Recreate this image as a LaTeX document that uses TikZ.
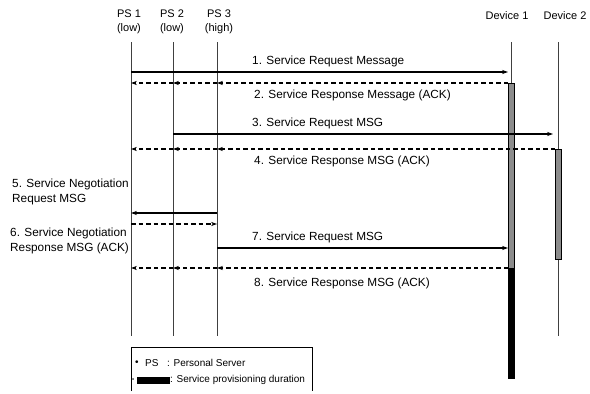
\documentclass[tikz,border=0pt]{standalone}
\usepackage{fontspec}
\setmainfont{Liberation Sans}
\usetikzlibrary{arrows.meta}
\begin{document}
\begin{tikzpicture}[x=1pt,y=-1pt,
  lbl/.style={font=\fontsize{11.8}{13.5}\selectfont, inner sep=0pt, anchor=west},
  side/.style={font=\fontsize{11.8}{15}\selectfont, inner sep=0pt, anchor=west, align=left},
  hdr/.style={font=\fontsize{11}{13.5}\selectfont, inner sep=0pt, align=center},
  leg/.style={font=\fontsize{10}{12}\selectfont, inner sep=0pt, anchor=west},
  life/.style={line width=0.5pt, black!75},
  tip/.style={-{Stealth[length=6pt,width=4.2pt]}},
  req/.style={line width=1.2pt, tip},
  resp/.style={line width=1.3pt, dash pattern=on 4.5pt off 3pt, tip},
  busy/.style={fill=black!45, draw=black, line width=0.5pt},
  done/.style={fill=black, draw=black, line width=0.5pt}]
\useasboundingbox (0,0) rectangle (590,394);

% participants
\node[hdr] (h1) at (129,22) {PS 1\\(low)};
\node[hdr] (h2) at (172,22) {PS 2\\(low)};
\node[hdr] (h3) at (219,22) {PS 3\\(high)};
\node[hdr] (h4) at (507,16) {Device 1};
\node[hdr] (h5) at (565,16) {Device 2};

% lifeline tops
\coordinate (p1) at (131,42);
\coordinate (p2) at (173,42);
\coordinate (p3) at (217,42);
\coordinate (d1) at (511,42);
\coordinate (d2) at (558,42);

% message rows
\coordinate (r1) at (0,72);
\coordinate (r2) at (0,83);
\coordinate (r3) at (0,134);
\coordinate (r4) at (0,149);
\coordinate (r5) at (0,213);
\coordinate (r6) at (0,224);
\coordinate (r7) at (0,248);
\coordinate (r8) at (0,268);
\coordinate (rend) at (0,336);
\coordinate (rd1) at (0,378);
\coordinate (rd2) at (0,259);

% lifelines
\draw[life] (p1) -- (p1 |- rend);
\draw[life] (p2) -- (p2 |- rend);
\draw[life] (p3) -- (p3 |- rend);
\draw[life] (d1) -- (d1 |- r2);
\draw[life] (d2) -- (d2 |- rend);

% service provisioning bars
\path[busy] ([xshift=-3pt]d1 |- r2) rectangle ([xshift=3pt]d1 |- r8);
\path[done] ([xshift=-3pt]d1 |- r8) rectangle ([xshift=3pt]d1 |- rd1);
\path[busy] ([xshift=-3pt]d2 |- r4) rectangle ([xshift=3pt]d2 |- rd2);

% 1
\draw[req] (p1 |- r1) -- ([xshift=-3pt]d1 |- r1);
\node[lbl] (m1) at (252,61) {1. Service Request Message};
% 2
\draw[resp] ([xshift=-3pt]d1 |- r2) -- (p3 |- r2);
\draw[resp] (p3 |- r2) -- (p2 |- r2);
\draw[resp] (p2 |- r2) -- (p1 |- r2);
\node[lbl] (m2) at (254,95) {2. Service Response Message (ACK)};
% 3
\draw[req] (p2 |- r3) -- ([xshift=-5pt]d2 |- r3);
\node[lbl] (m3) at (252,123) {3. Service Request MSG};
% 4
\draw[resp] ([xshift=-3pt]d2 |- r4) -- (p3 |- r4);
\draw[resp] (p3 |- r4) -- (p2 |- r4);
\draw[resp] (p2 |- r4) -- (p1 |- r4);
\node[lbl] (m4) at (254,161) {4. Service Response MSG (ACK)};
% 5
\draw[req] (p3 |- r5) -- (p1 |- r5);
\node[side] (m5) at (12,192) {5. Service Negotiation\\Request MSG};
% 6
\draw[resp] (p1 |- r6) -- (p3 |- r6);
\node[side] (m6) at (10,241) {6. Service Negotiation\\Response MSG (ACK)};
% 7
\draw[req] (p3 |- r7) -- ([xshift=-3pt]d1 |- r7);
\node[lbl] (m7) at (252,237) {7. Service Request MSG};
% 8
\draw[resp] ([xshift=-3pt]d1 |- r8) -- (p3 |- r8);
\draw[resp] (p3 |- r8) -- (p2 |- r8);
\draw[resp] (p2 |- r8) -- (p1 |- r8);
\node[lbl] (m8) at (254,283) {8. Service Response MSG (ACK)};

% legend
\draw[line width=0.6pt] (131,391) |- (312,347) -- (312,391);
\node[leg] (b1) at (135,363) {\textbullet};
\node[leg] (k1) at (145,363) {PS};
\node[leg] (c1) at (167,363) {: Personal Server};
\node[leg, font=\fontsize{6}{7}\selectfont] (b2) at (132,380) {\textbullet};
\path[done] (137,377) rectangle (169,383);
\node[leg] (c2) at (170,380) {: Service provisioning duration};
\end{tikzpicture}
\end{document}
